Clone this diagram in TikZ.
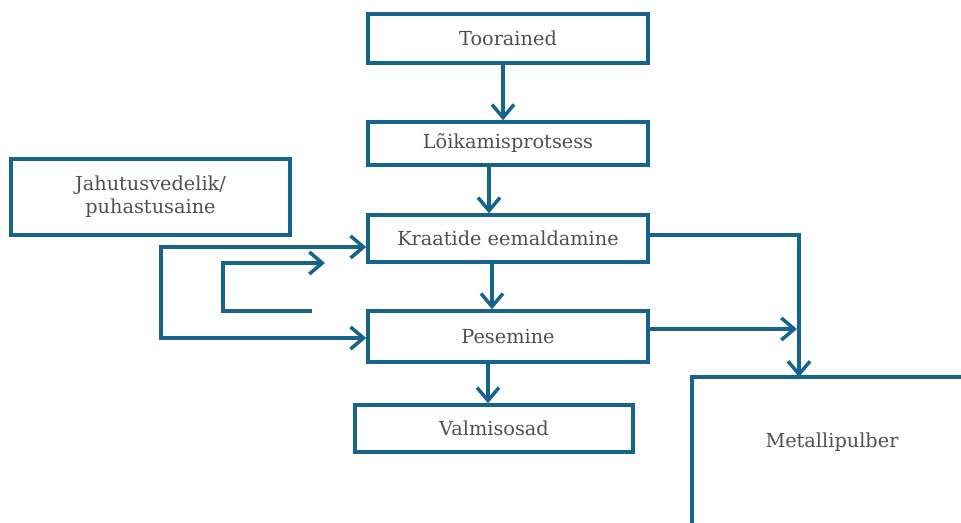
\documentclass[tikz,border=0pt]{standalone}
\usepackage{fontspec}
\setmainfont{DejaVu Serif}
\usetikzlibrary{arrows.meta,calc}
\definecolor{lineblue}{RGB}{22,99,140}
\definecolor{txtgray}{RGB}{80,80,80}
\begin{document}
\begin{tikzpicture}[x=1pt,y=-1pt,
  font=\fontsize{19.3}{23}\selectfont,
  box/.style={draw=lineblue,line width=3.5pt,text=txtgray,inner sep=0pt,align=center},
  conn/.style={draw=lineblue,line width=3.5pt},
  tip/.style={},
  arr/.style={conn,-{Straight Barb[length=13pt,width=22pt,line width=3.5pt]}},
  biarr/.style={conn,{Straight Barb[length=13pt,width=22pt,line width=3.5pt]}-{Straight Barb[length=13pt,width=22pt,line width=3.5pt]}}]
\useasboundingbox (0,0) rectangle (961,522);
% boxes
\node[box,minimum width=280pt,minimum height=49pt] (too) at (508,38.5) {Toorained};
\node[box,minimum width=280pt,minimum height=43pt] (loi) at (508,143.5) {Lõikamisprotsess};
\node[box,minimum width=280pt,minimum height=47pt] (kra) at (508,238.5) {Kraatide eemaldamine};
\node[box,minimum width=280pt,minimum height=51pt] (pes) at (508,336.5) {Pesemine};
\node[box,minimum width=278pt,minimum height=47pt] (val) at (494,428.5) {Valmisosad};
\node[box,minimum width=279pt,minimum height=76pt] (jah) at (150.5,197) {Jahutusvedelik/\\puhastusaine};
% Metallipulber (open frame cut by the page edge)
\draw[conn] (965,377) -- (692,377) -- (692,530);
\node[text=txtgray] (met) at (832,442) {Metallipulber};
\coordinate (mtop) at (799,377);
% vertical flow
\draw[arr] ([xshift=-5pt]too.south) -- ([xshift=-5pt]loi.north);
\draw[arr] ([xshift=-19pt]loi.south) -- ([xshift=-19pt]kra.north);
\draw[arr] ([xshift=-16pt]kra.south) -- ([xshift=-16pt]pes.north);
\coordinate (pv) at (488,0);
\draw[arr] (pes.south -| pv) -- (val.north -| pv);
% left loops
\coordinate (lk) at (161,247);
\coordinate (lp) at (161,338);
\draw[biarr] (kra.west |- lk) -- (lk) -- (lp) -- (pes.west |- lp);
\coordinate (ia) at (223,263);
\coordinate (ib) at (223,311);
\draw[arr] (312,311) -- (ib) -- (ia) -- (325,263);
% right side to Metallipulber
\coordinate (rk) at (799,235);
\draw[arr] (kra.east |- rk) -- (rk) -- (mtop);
\coordinate (rp) at (797,329);
\draw[arr] (pes.east |- rp) -- (rp);
\end{tikzpicture}
\end{document}
